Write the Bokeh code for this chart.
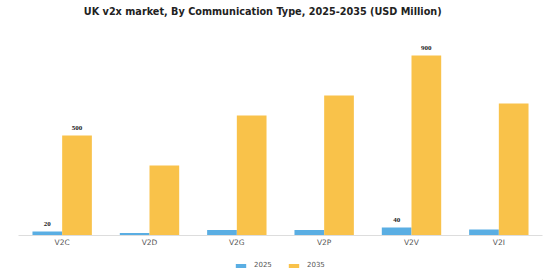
from bokeh.plotting import figure
from bokeh.models import ColumnDataSource, FactorRange, Range1d, Legend, LegendItem, LabelSet, Label
from bokeh.layouts import column
from bokeh.transform import dodge
from bokeh.embed import file_html
from bokeh.resources import INLINE

categories = ["V2C", "V2D", "V2G", "V2P", "V2V", "V2I"]
values_2025 = [20, 13, 27, 28, 40, 30]
values_2035 = [500, 350, 600, 700, 900, 660]
label_cats = ["V2C", "V2V"]
label_2025 = [20, 40]
label_2035 = [500, 900]
series_names = ["2025", "2035"]
title_text = "UK v2x market, By Communication Type, 2025-2035 (USD Million)"
BLUE = "#5AAEE3"
ORANGE = "#F9C24A"


def strip(h):
    f = figure(width=560, height=h, output_backend="svg", toolbar_location=None,
               x_range=Range1d(0, 560), y_range=Range1d(0, h),
               min_border_left=0, min_border_right=0, min_border_top=0, min_border_bottom=0)
    f.axis.visible = False
    f.grid.visible = False
    f.outline_line_color = None
    return f


# title strip
tf = strip(22)
tf.add_layout(Label(x=261, y=11, text=title_text, text_align="center", text_baseline="middle",
                    text_font="DejaVu Sans", text_font_size="9.7px", text_font_style="bold",
                    text_color="#222222"))

src = ColumnDataSource(dict(cat=categories, v25=values_2025, v35=values_2035))

p = figure(x_range=FactorRange(*categories), y_range=Range1d(0, 1000),
           width=560, height=233, output_backend="svg", toolbar_location=None,
           min_border_left=18, min_border_right=18, min_border_top=13, min_border_bottom=20)

r1 = p.vbar(x=dodge("cat", -0.17, range=p.x_range), top="v25", width=0.34, source=src,
            color=BLUE, line_color=None)
r2 = p.vbar(x=dodge("cat", 0.17, range=p.x_range), top="v35", width=0.34, source=src,
            color=ORANGE, line_color=None)

lsrc = ColumnDataSource(dict(cat=label_cats, v25=label_2025, v35=label_2035,
                             t25=[str(v) for v in label_2025], t35=[str(v) for v in label_2035]))
for col, off in (("25", -0.17), ("35", 0.17)):
    p.add_layout(LabelSet(x=dodge("cat", off, range=p.x_range), y="v" + col, text="t" + col, source=lsrc,
                          text_align="center", text_baseline="bottom", y_offset=6,
                          text_font_size="7px", text_font_style="bold",
                          text_color="#222222", text_font="DejaVu Sans"))

p.yaxis.visible = False
p.xgrid.grid_line_color = None
p.ygrid.grid_line_color = None
p.outline_line_color = None
p.xaxis.axis_line_color = "#dddddd"
p.xaxis.major_tick_line_color = None
p.xaxis.minor_tick_line_color = None
p.xaxis.major_tick_out = 0
p.xaxis.major_tick_in = 0
p.xaxis.major_label_text_font_size = "7.5px"
p.xaxis.major_label_text_color = "#555555"
p.xaxis.major_label_text_font = "DejaVu Sans"
p.xaxis.major_label_standoff = 2
p.x_range.range_padding = 0.0
p.x_range.group_padding = 0.0

# legend strip
lf = strip(25)
lr1 = lf.vbar(x=[900], top=[1], width=1, color=BLUE, line_color=None)
lr2 = lf.vbar(x=[900], top=[1], width=1, color=ORANGE, line_color=None)
legend = Legend(items=[LegendItem(label=series_names[0], renderers=[lr1]),
                       LegendItem(label=series_names[1], renderers=[lr2])],
                orientation="horizontal", location=(216, 10))
legend.label_text_font_size = "7px"
legend.label_text_color = "#555555"
legend.label_text_font = "DejaVu Sans"
legend.glyph_width = 13
legend.glyph_height = 5
legend.label_height = 10
legend.label_standoff = 7
legend.spacing = 13
legend.border_line_color = None
legend.background_fill_alpha = 0
legend.padding = 3
legend.margin = 0
lf.add_layout(legend)

open("out.html", "w").write(file_html(column(tf, p, lf, spacing=0), INLINE))
